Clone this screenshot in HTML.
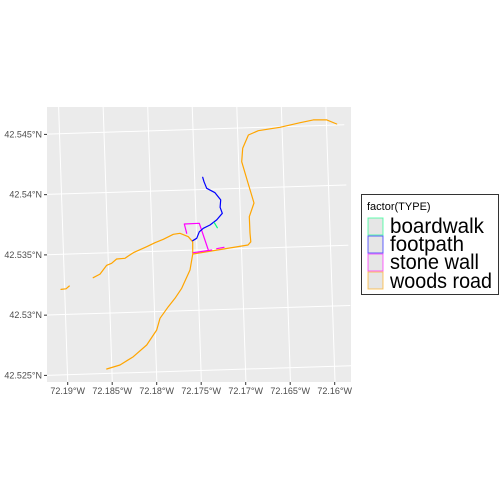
<!DOCTYPE html>
<html><head><meta charset="utf-8"><style>
body{margin:0;background:#fff;}
svg{display:block;font-family:"Liberation Sans",sans-serif;}
</style></head><body>
<svg id="chart" width="504" height="504">
<rect x="47" y="107" width="304" height="275" fill="#ebebeb"/>
<g id="grid"></g><g id="marks"></g><g id="axes"></g>
<g>
<rect x="361.5" y="194.5" width="137" height="100" fill="#fff" stroke="#333" stroke-width="1"/>
<text x="367" y="210" font-size="11" fill="#000">factor(TYPE)</text>
<g><rect x="368" y="218" width="15" height="17" fill="#e6e6e6" stroke="#00ff7f" stroke-opacity="0.6"/><text x="390" y="233" font-size="21" textLength="94" lengthAdjust="spacingAndGlyphs">boardwalk</text></g>
<g><rect x="368" y="236" width="15" height="17" fill="#e6e6e6" stroke="#0000ff" stroke-opacity="0.6"/><text x="390" y="251" font-size="21" textLength="74" lengthAdjust="spacingAndGlyphs">footpath</text></g>
<g><rect x="368" y="254" width="15" height="17" fill="#e6e6e6" stroke="#ff00ff" stroke-opacity="0.6"/><text x="390" y="269" font-size="21" textLength="89" lengthAdjust="spacingAndGlyphs">stone wall</text></g>
<g><rect x="368" y="272" width="15" height="17" fill="#e6e6e6" stroke="#ffa500" stroke-opacity="0.6"/><text x="390" y="288" font-size="21" textLength="102" lengthAdjust="spacingAndGlyphs">woods road</text></g>
</g>
</svg>
<script>
const lonTicks=[-72.19,-72.185,-72.18,-72.175,-72.17,-72.165,-72.16];
const lonLabels=["72.19°W","72.185°W","72.18°W","72.175°W","72.17°W","72.165°W","72.16°W"];
const latTicks=[42.525,42.53,42.535,42.54,42.545];
const latLabels=["42.525°N","42.53°N","42.535°N","42.54°N","42.545°N"];
const roadNELon=[-72.17545,-72.16927,-72.16896,-72.16904,-72.16912,-72.16859,-72.16927,-72.16998,-72.16986,-72.16923,-72.16811,-72.16567,-72.16342,-72.16193,-72.16042,-72.1593];
const roadNELat=[42.53483,42.53558,42.53585,42.53658,42.53793,42.53907,42.54073,42.54249,42.54361,42.54471,42.54507,42.54535,42.54573,42.54596,42.54596,42.54562];
const roadSWLon=[-72.17548,-72.17548,-72.17598,-72.17691,-72.17766,-72.17879,-72.17972,-72.18065,-72.18216,-72.18272,-72.18309,-72.18403,-72.18459,-72.18515,-72.1859,-72.18666];
const roadSWLat=[42.53489,42.53585,42.53627,42.53655,42.53647,42.53605,42.53577,42.53544,42.53494,42.53467,42.53448,42.53442,42.53406,42.5339,42.53317,42.53287];
const roadWLon=[-72.19028,-72.18972,-72.18935];
const roadWLat=[42.5319,42.53195,42.53218];
const roadSLon=[-72.17548,-72.17579,-72.17672,-72.17747,-72.17823,-72.17916,-72.17953,-72.18065,-72.18216,-72.18365,-72.18515];
const roadSLat=[42.53481,42.53351,42.53199,42.53116,42.53046,42.5295,42.52853,42.52728,42.52631,42.52562,42.52529];
const footLon=[-72.17436,-72.17421,-72.17391,-72.17298,-72.17234,-72.17241,-72.17216,-72.17279,-72.17354,-72.17429,-72.17474,-72.17503,-72.17548];
const footLat=[42.5412,42.54083,42.54029,42.53992,42.53932,42.53871,42.53821,42.53766,42.53724,42.53697,42.53668,42.53614,42.53594];
const boardLon=[-72.17306,-72.17272];
const boardLat=[42.53743,42.53702];
const wall1Lon=[-72.17616,-72.17643,-72.17474,-72.17373];
const wall1Lat=[42.53655,42.53732,42.53738,42.53517];
const wall2Lon=[-72.17542,-72.17335];
const wall2Lat=[42.53494,42.53517];
const wall3Lon=[-72.17279,-72.17197];
const wall3Lat=[42.53527,42.53539];

function sx(lon){return 197+(lon+72.175)*8900;}
function sy(lat){return 252-(lat-42.535)*12050;}
function gx(lon,lat){return sx(lon)-2*(lat-42.535)/0.005;}
function gy(lon,lat){return sy(lat)-1.4*(lon+72.175)/0.005-2;}
const NS='http://www.w3.org/2000/svg';
function mk(tag,attrs,parent){const e=document.createElementNS(NS,tag);for(const k in attrs)e.setAttribute(k,attrs[k]);parent.appendChild(e);return e;}
const grid=document.getElementById('grid'),marks=document.getElementById('marks'),axes=document.getElementById('axes');
const cp=mk('clipPath',{id:'cp'},document.getElementById('chart'));mk('rect',{x:47,y:107,width:304,height:275},cp);
grid.setAttribute('clip-path','url(#cp)');marks.setAttribute('clip-path','url(#cp)');
lonTicks.forEach((t,i)=>{
 const l=mk('line',{x1:gx(t,42.5235),y1:gy(t,42.5235),x2:gx(t,42.5475),y2:gy(t,42.5475),stroke:'#fff','stroke-width':1},grid);
 
 
 const bx=gx(t,42.5245);
 mk('line',{x1:bx,y1:382,x2:bx,y2:385,stroke:'#333'},axes);
 const tx=mk('text',{x:bx,y:394,'font-size':9,fill:'#4d4d4d','text-anchor':'middle'},axes);
 tx.textContent=lonLabels[i];
 
 
});
latTicks.forEach((t,i)=>{
 const l=mk('line',{x1:gx(-72.1925,t),y1:gy(-72.1925,t),x2:gx(-72.158,t),y2:gy(-72.158,t),stroke:'#fff','stroke-width':1},grid);
 
 
 const by=gy(-72.1925,t);
 mk('line',{x1:44,y1:by,x2:47,y2:by,stroke:'#333'},axes);
 const tx=mk('text',{x:42,y:by+3,'font-size':9,fill:'#4d4d4d','text-anchor':'end'},axes);
 tx.textContent=latLabels[i];
 
 
});
function path(lons,lats,color,name){
 const d=lons.map((v,i)=>(i?'L':'M')+sx(v).toFixed(1)+','+sy(lats[i]).toFixed(1)).join('');
 const p=mk('path',{d:d,fill:'none',stroke:color,'stroke-width':1.2,'stroke-linejoin':'round','stroke-linecap':'round'},marks);
 
 
}
path(roadNELon,roadNELat,'#ffa500','woods-road-ne');
path(roadSWLon,roadSWLat,'#ffa500','woods-road-sw');
path(roadWLon,roadWLat,'#ffa500','woods-road-w');
path(roadSLon,roadSLat,'#ffa500','woods-road-s');
path(wall1Lon,wall1Lat,'#ff00ff','stone-wall-1');
path(wall2Lon,wall2Lat,'#ff00ff','stone-wall-2');
path(wall3Lon,wall3Lat,'#ff00ff','stone-wall-3');
path(footLon,footLat,'#0000ff','footpath');
path(boardLon,boardLat,'#00ff7f','boardwalk');
</script>
</body></html>
